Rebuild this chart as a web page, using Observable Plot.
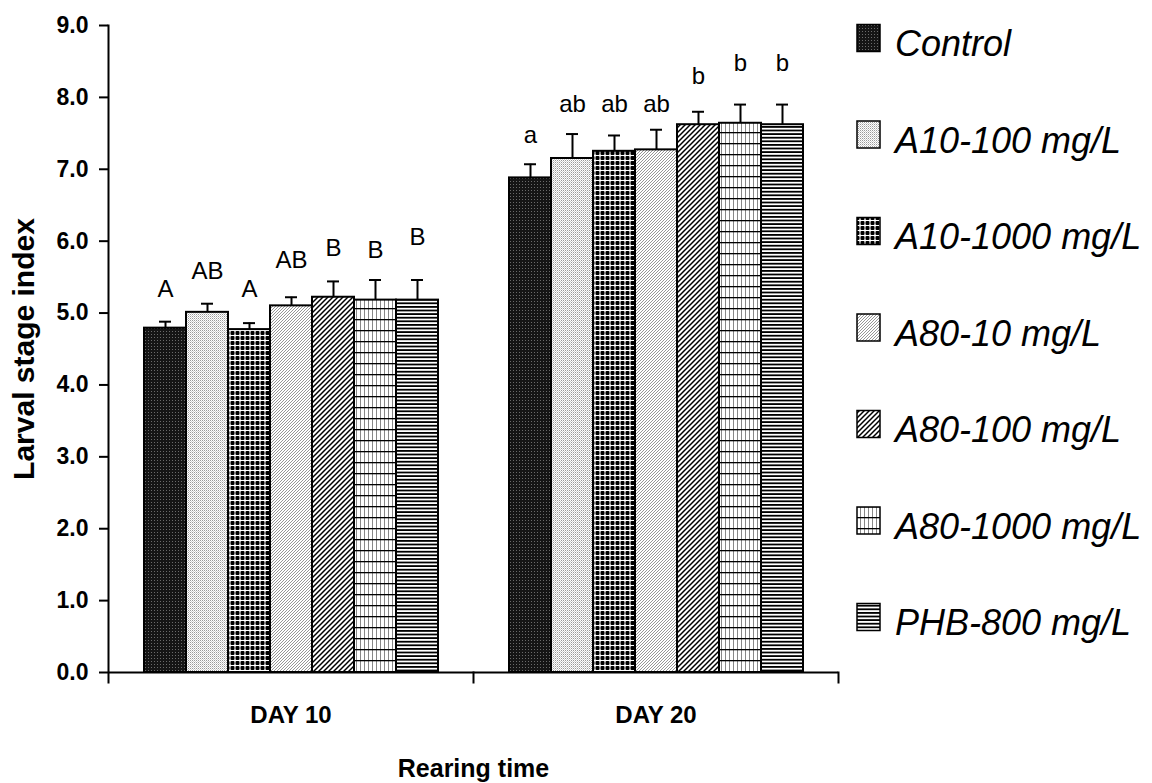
<!DOCTYPE html>
<html>
<head>
<meta charset="utf-8">
<script src="https://cdn.jsdelivr.net/npm/d3@7"></script>
<script src="https://cdn.jsdelivr.net/npm/@observablehq/plot@0.6"></script>
<style>
  html, body { margin: 0; padding: 0; background: #fff; }
  #wrap { position: relative; width: 1152px; height: 783px; overflow: hidden; font-family: "Liberation Sans", Arial, sans-serif; }
  #legend { position: absolute; left: 0; top: 0; }
  g[aria-label="y-axis label"] { font-size: 30px; }
  g[aria-label="fx-axis label"] { font-size: 25px; }
</style>
</head>
<body>
<svg width="0" height="0" style="position:absolute">
  <defs>
    <pattern id="p0" patternUnits="userSpaceOnUse" width="3" height="3">
      <rect width="3" height="3" fill="#151515"/>
      <rect x="1" y="1" width="1" height="1" fill="#6a6a6a"/>
    </pattern>
    <pattern id="p1" patternUnits="userSpaceOnUse" width="2" height="2">
      <rect width="2" height="2" fill="#fff"/>
      <rect x="0" y="0" width="1" height="1" fill="#9a9a9a"/>
      <rect x="1" y="1" width="1" height="1" fill="#cfcfcf"/>
    </pattern>
    <pattern id="p2" patternUnits="userSpaceOnUse" width="5" height="5">
      <rect width="5" height="5" fill="#fff"/>
      <rect x="0.5" y="1" width="4" height="4" rx="1" fill="#000"/>
    </pattern>
    <pattern id="p3" patternUnits="userSpaceOnUse" width="3" height="3">
      <rect width="3" height="3" fill="#fff"/>
      <path d="M-1,1 L1,-1 M0,3 L3,0 M2,4 L4,2" stroke="#8a8a8a" stroke-width="0.9"/>
    </pattern>
    <pattern id="p4" patternUnits="userSpaceOnUse" width="5" height="5">
      <rect width="5" height="5" fill="#fff"/>
      <path d="M-1,1 L1,-1 M0,5 L5,0 M4,6 L6,4" stroke="#000" stroke-width="1.5"/>
    </pattern>
    <pattern id="p5" patternUnits="userSpaceOnUse" width="4" height="11">
      <rect width="4" height="11" fill="#fff"/>
      <rect x="0" y="0" width="1" height="11" fill="#888"/>
      <rect x="0" y="0" width="4" height="1.3" fill="#000"/>
    </pattern>
    <pattern id="p6" patternUnits="userSpaceOnUse" width="4" height="3.6">
      <rect width="4" height="3.6" fill="#fff"/>
      <rect x="0" y="0" width="4" height="1.8" fill="#000"/>
    </pattern>
  </defs>
</svg>
<div id="wrap"></div>
<script>
// ---- data ----
const days = ["DAY 10", "DAY 20"];
const series = ["Control", "A10-100 mg/L", "A10-1000 mg/L", "A80-10 mg/L", "A80-100 mg/L", "A80-1000 mg/L", "PHB-800 mg/L"];
const day10Means = [4.79, 5.01, 4.77, 5.10, 5.22, 5.18, 5.18];
const day10Errors = [0.09, 0.12, 0.09, 0.12, 0.22, 0.28, 0.28];
const day10Letters = ["A", "AB", "A", "AB", "B", "B", "B"];
const day10LetterPos = [5.22, 5.47, 5.22, 5.62, 5.80, 5.77, 5.94];
const day20Means = [6.88, 7.15, 7.25, 7.27, 7.62, 7.64, 7.62];
const day20Errors = [0.19, 0.34, 0.22, 0.28, 0.18, 0.26, 0.28];
const day20Letters = ["a", "ab", "ab", "ab", "b", "b", "b"];
const day20LetterPos = [7.36, 7.79, 7.79, 7.80, 8.19, 8.37, 8.37];
const yTicks = [0, 1, 2, 3, 4, 5, 6, 7, 8, 9];
const patterns = ["url(#p0)", "url(#p1)", "url(#p2)", "url(#p3)", "url(#p4)", "url(#p5)", "url(#p6)"];

const byDay = {
  "DAY 10": {m: day10Means, e: day10Errors, l: day10Letters, p: day10LetterPos},
  "DAY 20": {m: day20Means, e: day20Errors, l: day20Letters, p: day20LetterPos}
};
const rows = days.flatMap(day => series.map((s, i) => ({
  day, series: s, mean: byDay[day].m[i], err: byDay[day].e[i],
  letter: byDay[day].l[i], letterY: byDay[day].p[i], fill: patterns[i]
})));

const W = 1152, H = 783, mt = 25, mb = 111, ml = 108, mr = 314;
const plotH = H - mt - mb;

const chart = Plot.plot({
  width: W, height: H,
  marginTop: mt, marginBottom: mb, marginLeft: ml, marginRight: mr,
  style: {fontFamily: "'Liberation Sans', Arial, sans-serif", color: "black", background: "white"},
  fx: {domain: days, padding: 0},
  x: {domain: series, paddingInner: 0, paddingOuter: 0.745, axis: null},
  y: {domain: [0, 9]},
  color: {type: "identity"},
  marks: [
    Plot.barY(rows, {fx: "day", x: "series", y: "mean", fill: "fill", stroke: "black", strokeWidth: 2}),
    Plot.ruleX(rows, {fx: "day", x: "series", y1: "mean", y2: d => d.mean + d.err, stroke: "black", strokeWidth: 2}),
    Plot.tickY(rows, {fx: "day", x: "series", y: d => d.mean + d.err, stroke: "black", strokeWidth: 2, insetLeft: 15, insetRight: 15}),
    Plot.text(rows, {fx: "day", x: "series", y: "letterY", text: "letter", fontSize: 24, lineAnchor: "bottom", fill: "black"}),
    Plot.ruleY([0], {stroke: "black", strokeWidth: 2}),
    Plot.frame({anchor: "left", facetAnchor: "left", insetBottom: -10, stroke: "black", strokeWidth: 2}),
    Plot.frame({anchor: "right", insetTop: plotH, insetBottom: -10, stroke: "black", strokeWidth: 2}),
    Plot.axisY({ticks: yTicks, tickFormat: d3.format(".1f"), tickSize: 9, tickPadding: 11, strokeWidth: 2,
      fontSize: 23, fontWeight: "bold", label: "Larval stage index", labelAnchor: "center", labelArrow: "none", labelOffset: 96}),
    Plot.axisFx({anchor: "bottom", tickSize: 0, tickPadding: 33, fontSize: 24, fontWeight: "bold",
      label: "Rearing time", labelAnchor: "center", labelArrow: "none", labelOffset: 104})
  ]
});
document.getElementById("wrap").appendChild(chart);

// legend
const ns = "http://www.w3.org/2000/svg";
const leg = document.createElementNS(ns, "svg");
leg.setAttribute("id", "legend");
leg.setAttribute("width", W);
leg.setAttribute("height", H);
series.forEach((s, i) => {
  const cy = 38 + i * 96.5;
  const r = document.createElementNS(ns, "rect");
  r.setAttribute("x", 857); r.setAttribute("y", cy - 13.5);
  r.setAttribute("width", 23); r.setAttribute("height", 27);
  r.setAttribute("fill", patterns[i]); r.setAttribute("stroke", "black"); r.setAttribute("stroke-width", 1.5);
  leg.appendChild(r);
  const t = document.createElementNS(ns, "text");
  t.setAttribute("x", 895); t.setAttribute("y", cy + 18);
  t.setAttribute("font-size", 36); t.setAttribute("font-style", "italic");
  t.setAttribute("font-family", "'Liberation Sans', Arial, sans-serif");
  t.textContent = s;
  leg.appendChild(t);
});
document.getElementById("wrap").appendChild(leg);
</script>
</body>
</html>
